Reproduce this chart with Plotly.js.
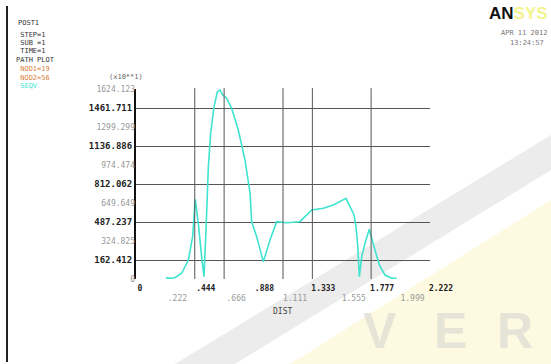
<!DOCTYPE html>
<html><head><meta charset="utf-8">
<script src="https://cdn.plot.ly/plotly-3.0.1.min.js"></script>
<style>html,body{margin:0;padding:0;background:#fff;}#plot{width:551px;height:364px;}</style>
</head><body><div id="plot"></div>
<script>
// ---- data ----
var distValues = [0.227,0.27,0.30,0.345,0.396,0.428,0.448,0.471,0.496,0.514,0.529,0.547,0.564,0.590,0.615,0.635,0.655,0.685,0.723,0.773,0.824,0.862,0.874,0.912,0.962,1.013,1.063,1.139,1.239,1.328,1.416,1.491,1.587,1.617,1.648,1.663,1.676,1.688,1.706,1.731,1.763,1.799,1.839,1.882,1.932,1.97];
var seqvValues = [10,5,15,49,162,362,681,476,191,20,419,960,1245,1473,1601,1616,1573,1545,1459,1274,1017,733,490,362,148,333,490,481,490,590,604,633,690,618,547,447,276,20,191,305,425,276,120,34,6,5];

var xTickValsRow1 = [0,0.444,0.888,1.333,1.777,2.222];
var xTickTextRow1 = ["0\u00a0\u00a0\u00a0",".444",".888","1.333","1.777","2.222"];
var xTickValsRow2 = [0.222,0.666,1.111,1.555,1.999];
var xTickTextRow2 = [".222",".666","1.111","1.555","1.999"];
var yTickValsDark = [162.412,487.237,812.062,1136.886,1461.711];
var yTickTextDark = ["162.412","487.237","812.062","1136.886","1461.711"];
var yTickValsLight = [0,324.825,649.649,974.474,1299.299,1624.123];
var yTickTextLight = ["0","324.825","649.649","974.474","1299.299","1624.123"];
var xGridVals = [0.444,0.666,1.111,1.333,1.777];
var infoLines = ["POST1"," STEP=1"," SUB =1"," TIME=1","PATH PLOT"," NOD1=19"," NOD2=56"," SEQV"];

// ---- layout helpers (pixel -> paper) ----
var L=136, R=430, T=89, B=279;
function px(x){return (x-L)/(R-L);}
function py(y){return (B-y)/(B-T);}

var mono="DejaVu Sans Mono";
var traces=[
 {x:distValues,y:seqvValues,mode:'lines',line:{color:'#3fe3cf',width:1.6},xaxis:'x',yaxis:'y',hoverinfo:'skip',showlegend:false},
 {x:[0],y:[0],mode:'markers',marker:{opacity:0},xaxis:'x2',yaxis:'y2',hoverinfo:'skip',showlegend:false}
];

var shapes=[];
// watermark
shapes.push({type:'path',xref:'paper',yref:'paper',layer:'below',line:{width:0},fillcolor:'rgba(252,246,200,0.55)',
  path:'M '+px(290)+' '+py(364)+' L '+px(551)+' '+py(200)+' L '+px(551)+' '+py(364)+' Z'});
shapes.push({type:'path',xref:'paper',yref:'paper',layer:'below',line:{width:0},fillcolor:'rgba(200,200,200,0.35)',
  path:'M '+px(175)+' '+py(364)+' L '+px(551)+' '+py(135)+' L '+px(551)+' '+py(170)+' L '+px(235)+' '+py(364)+' Z'});
// left border bar
shapes.push({type:'line',xref:'paper',yref:'paper',x0:px(7),x1:px(7),y0:py(6),y1:py(362),line:{color:'#222',width:2}});
// vertical grid
xGridVals.forEach(function(v){shapes.push({type:'line',xref:'x',yref:'paper',x0:v,x1:v,y0:0,y1:1.005,line:{color:'#555',width:1}});});

var ann=[];
infoLines.forEach(function(t,i){
  var ys=[23,35,43,51,60,69,78,86];
  var col=i>=5&&i<7?'#d9833e':(i==7?'#3fe3cf':'#333');
  ann.push({xref:'paper',yref:'paper',x:px(t==="POST1"?16:14),y:py(ys[i]),text:t.replace(/ /g,'\u00a0'),showarrow:false,xanchor:'left',yanchor:'middle',font:{family:mono,size:7,color:col}});
});
ann.push({xref:'paper',yref:'paper',x:px(487),y:py(13),text:'<b>AN<span style="color:#f4f48c">SYS</span></b>',showarrow:false,xanchor:'left',yanchor:'middle',font:{family:'Liberation Sans',size:17,color:'#111'}});
ann.push({xref:'paper',yref:'paper',x:px(549),y:py(33),text:'APR\u00a011\u00a02012',showarrow:false,xanchor:'right',yanchor:'middle',font:{family:mono,size:7,color:'#777'}});
ann.push({xref:'paper',yref:'paper',x:px(546),y:py(43),text:'13:24:57',showarrow:false,xanchor:'right',yanchor:'middle',font:{family:mono,size:7,color:'#777'}});
ann.push({xref:'paper',yref:'paper',x:px(145),y:py(77),text:'(x10**1)',showarrow:false,xanchor:'right',yanchor:'middle',font:{family:mono,size:7,color:'#666'}});
ann.push({xref:'paper',yref:'paper',x:px(282),y:py(311),text:'DIST',showarrow:false,xanchor:'center',yanchor:'middle',font:{family:mono,size:8,color:'#444'}});
// watermark letters
[['V',380],['E',450],['R',515]].forEach(function(p){
  ann.push({xref:'paper',yref:'paper',x:px(p[1]),y:py(331),text:'<b>'+p[0]+'</b>',showarrow:false,xanchor:'center',yanchor:'middle',font:{family:'Liberation Sans',size:50,color:'rgba(205,205,205,0.5)'}});
});

var layout={
 width:551,height:364,margin:{l:L,r:551-R,t:T,b:364-B},
 paper_bgcolor:'#ffffff',plot_bgcolor:'rgba(0,0,0,0)',showlegend:false,
 xaxis:{range:[0,2.222],tickmode:'array',tickvals:xTickValsRow1,ticktext:xTickTextRow1,ticks:'',showgrid:false,zeroline:false,showline:false,
   ticklabelshift:11,ticklabelstandoff:3,tickfont:{family:mono,size:8,color:'#222',weight:'bold'}},
 xaxis2:{range:[0,2.222],overlaying:'x',anchor:'y2',side:'bottom',tickmode:'array',tickvals:xTickValsRow2,ticktext:xTickTextRow2,ticks:'',showgrid:false,zeroline:false,showline:false,
   ticklabelshift:12,ticklabelstandoff:13,tickfont:{family:mono,size:8,color:'#999'}},
 yaxis:{range:[0,1624.123],tickmode:'array',tickvals:yTickValsDark,ticktext:yTickTextDark,ticks:'',showgrid:true,gridcolor:'#555',gridwidth:1,zeroline:false,
   showline:true,linecolor:'#111',linewidth:2,ticklabelstandoff:0,tickfont:{family:mono,size:9,color:'#222',weight:'bold'}},
 yaxis2:{range:[0,1624.123],overlaying:'y',anchor:'x2',side:'left',tickmode:'array',tickvals:yTickValsLight,ticktext:yTickTextLight,ticks:'',showgrid:false,zeroline:false,showline:false,
   ticklabelstandoff:0,tickfont:{family:mono,size:8,color:'#999'}},
 shapes:shapes,annotations:ann
};
Plotly.newPlot('plot',traces,layout,{staticPlot:true,displayModeBar:false});
</script></body></html>
